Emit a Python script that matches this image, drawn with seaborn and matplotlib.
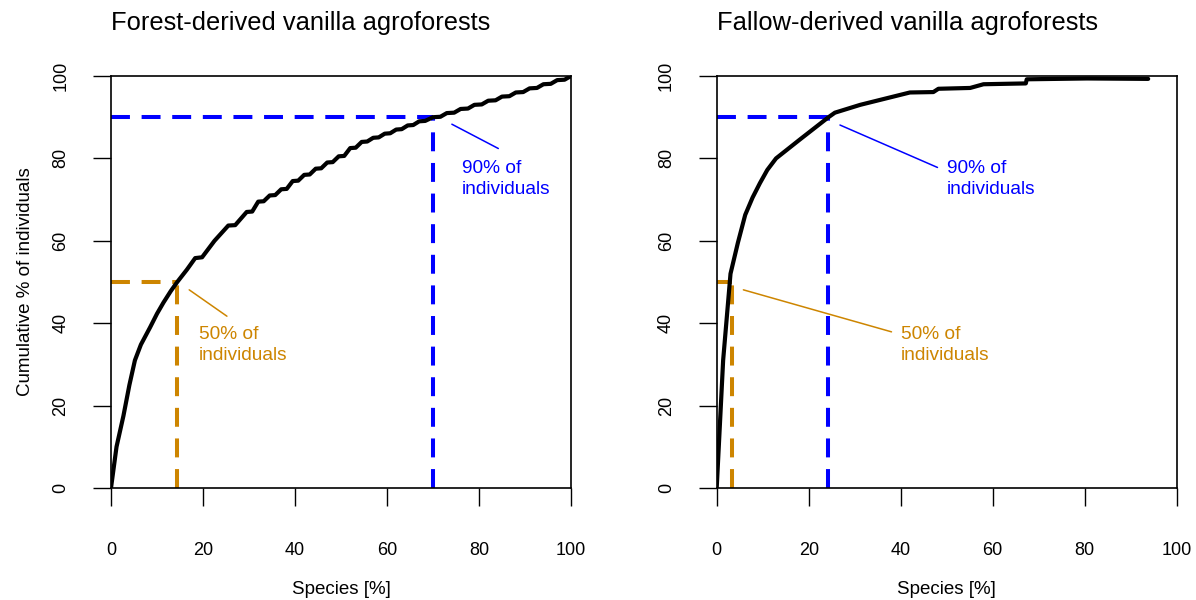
import matplotlib
matplotlib.use("Agg")
import matplotlib.pyplot as plt
import pandas as pd
import seaborn as sns

# Panel titles
titles = ["Forest-derived vanilla agroforests", "Fallow-derived vanilla agroforests"]

# Cumulative share of individuals vs. share of species (ranked by abundance)
forest_species_pct = [0, 1.2, 2.7, 4.0, 5.2, 6.5, 8.5, 10.0, 11.4, 13.0, 14.4, 16.5, 18.3, 19.8,
                      22.5, 25.5, 27.0, 29.5, 30.7, 32.0, 33.2, 34.5, 35.7, 37.0, 38.2, 39.5,
                      40.7, 42.0, 43.2, 44.5, 45.7, 47.0, 48.2, 49.5, 50.7, 52.0, 53.2, 54.5,
                      55.7, 57.0, 58.2, 59.5, 60.7, 62.0, 63.2, 64.5, 65.7, 67.0, 68.3, 70.0,
                      71.6, 73.0, 74.6, 76.0, 77.6, 79.0, 80.6, 82.0, 83.6, 85.0, 86.6, 88.0,
                      89.6, 91.0, 92.6, 94.0, 95.6, 97.0, 98.6, 100.0]
forest_cum_pct = [0, 10.0, 17.5, 25.0, 31.0, 34.8, 39.0, 42.3, 45.0, 47.8, 50.0, 53.0, 55.8, 56.0,
                  60.0, 63.7, 63.8, 67.0, 67.1, 69.5, 69.6, 71.0, 71.1, 72.5, 72.6, 74.5,
                  74.6, 76.0, 76.1, 77.5, 77.6, 79.0, 79.1, 80.5, 80.6, 82.5, 82.6, 84.0,
                  84.1, 85.0, 85.1, 86.0, 86.1, 87.0, 87.1, 88.0, 88.1, 89.0, 89.1, 90.0,
                  90.1, 91.0, 91.1, 92.0, 92.1, 93.0, 93.1, 94.0, 94.1, 95.0, 95.1, 96.0,
                  96.1, 97.0, 97.1, 98.0, 98.1, 99.0, 99.1, 100.0]

fallow_species_pct = [0, 1.4, 3.0, 4.6, 6.2, 7.8, 9.4, 11.0, 12.9, 18.1, 24.3, 25.7, 31.2, 42.0,
                      47.1, 48.2, 55.1, 58.0, 67.2, 67.4, 80.5, 93.8]
fallow_cum_pct = [0, 31.0, 52.0, 59.5, 66.3, 70.5, 74.0, 77.2, 80.0, 84.6, 90.0, 91.1, 93.0, 96.0,
                  96.1, 96.9, 97.1, 98.0, 98.2, 99.2, 99.4, 99.3]

# Share of species holding 50% and 90% of individuals
threshold_levels = [50, 90]
forest_thresholds = [14.4, 70.0]
fallow_thresholds = [3.3, 24.3]
threshold_labels = ["50% of\nindividuals", "90% of\nindividuals"]

# Leader lines (start -> end) and label anchors, in data units
forest_leaders = [((17.0, 48.1), (25.2, 41.7)), ((74.1, 88.3), (84.2, 82.4))]
forest_label_pos = [(19.1, 34.7), (76.2, 75.0)]
fallow_leaders = [((5.8, 48.1), (38.0, 37.9)), ((26.8, 88.1), (48.0, 77.8))]
fallow_label_pos = [(40.1, 34.7), (50.0, 75.0)]

ticks = [0, 20, 40, 60, 80, 100]

ORANGE = "#CD8500"
BLUE = "#0000FF"
line_colors = [ORANGE, BLUE]

sns.set_theme(style="white")
plt.rcParams["font.family"] = ["Liberation Sans", "DejaVu Sans"]
for key in ["text.color", "axes.labelcolor", "xtick.color", "ytick.color", "axes.edgecolor"]:
    plt.rcParams[key] = "black"

fig = plt.figure(figsize=(11.96, 6.0), dpi=100)
ax_left = fig.add_axes([111 / 1196, 112 / 600, 460 / 1196, 412 / 600])
ax_right = fig.add_axes([716.7 / 1196, 112 / 600, 460 / 1196, 412 / 600])

panels = [
    (ax_left, titles[0], forest_species_pct, forest_cum_pct, forest_thresholds,
     forest_leaders, forest_label_pos),
    (ax_right, titles[1], fallow_species_pct, fallow_cum_pct, fallow_thresholds,
     fallow_leaders, fallow_label_pos),
]

for i, (ax, title, xs, ys, thr, leaders, label_pos) in enumerate(panels):
    df = pd.DataFrame({"species": xs, "cumulative": ys})

    # Threshold guides
    for level, xt, col in zip(threshold_levels, thr, line_colors):
        ax.plot([0, xt], [level, level], color=col, lw=2.9, dashes=(4.7, 2.9),
                dash_capstyle="butt", zorder=2)
        ax.plot([xt, xt], [0, level], color=col, lw=2.9, dashes=(4.7, 2.9),
                dash_capstyle="butt", zorder=2)

    sns.lineplot(data=df, x="species", y="cumulative", ax=ax, color="black",
                 lw=3.0, sort=False, estimator=None, zorder=3)

    for (p0, p1), (tx, ty), col, txt in zip(leaders, label_pos, line_colors, threshold_labels):
        ax.plot([p0[0], p1[0]], [p0[1], p1[1]], color=col, lw=1.1, zorder=2)
        ax.text(tx, ty, txt, color=col, fontsize=13.8, ha="left", va="center",
                linespacing=1.3)

    ax.set_xlim(0, 100)
    ax.set_ylim(0, 100)
    ax.set_xticks(ticks)
    ax.set_yticks(ticks)
    ax.set_xticklabels([str(t) for t in ticks], fontsize=13)
    ax.set_yticklabels([str(t) for t in ticks], fontsize=13, rotation=90, va="center")
    ax.tick_params(axis="both", direction="out", length=13, width=1.0, color="black",
                   labelcolor="black", bottom=True, left=True)
    ax.tick_params(axis="x", pad=26)
    ax.tick_params(axis="y", pad=17)
    for sp in ax.spines.values():
        sp.set_visible(True)
        sp.set_color("black")
        sp.set_linewidth(1.2)

    ax.set_xlabel("Species [%]", fontsize=13.5, color="black")
    ax.xaxis.set_label_coords(0.5, -0.225)
    if i == 0:
        ax.set_ylabel("Cumulative % of individuals", fontsize=13.5, color="black")
        ax.yaxis.set_label_coords(-0.168, 0.5)
    else:
        ax.set_ylabel("")

    ax.set_title(title, loc="left", fontsize=18.4, y=1.112, pad=0, color="black")

fig.savefig("out.png", dpi=100)
